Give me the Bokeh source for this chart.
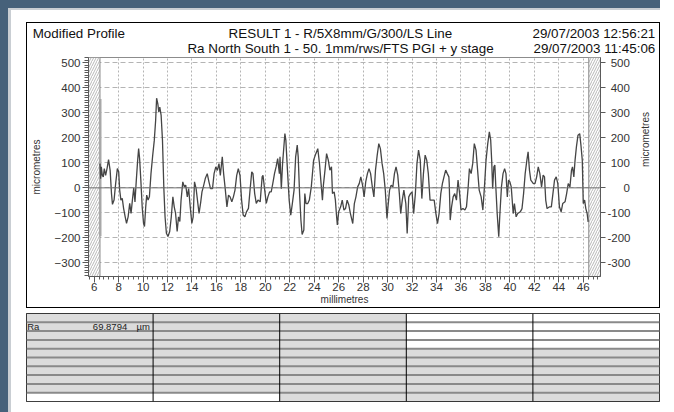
import math
from bokeh.plotting import figure
from bokeh.models import Range1d, LinearAxis, FixedTicker, Span
from bokeh.layouts import column, row
from bokeh.embed import file_html
from bokeh.resources import INLINE
from bokeh.core.properties import value

FONT = "Liberation Sans"

# ---------------- data ----------------
profile_mm = [
    6.48, 6.53, 6.59, 6.67, 6.75, 6.83, 6.94, 7.07, 7.18, 7.31, 7.42, 7.50, 7.63, 7.76, 7.90,
    8.01, 8.09, 8.19, 8.30, 8.41, 8.54, 8.65, 8.78, 8.91, 9.02, 9.13, 9.24, 9.34, 9.45, 9.56,
    9.64, 9.72, 9.82, 9.93, 10.04, 10.12, 10.22, 10.30, 10.41, 10.52, 10.65, 10.79, 10.92,
    11.03, 11.11, 11.21, 11.29, 11.37, 11.48, 11.59, 11.70, 11.80, 11.91, 12.04, 12.18, 12.31,
    12.44, 12.55, 12.66, 12.79, 12.90, 13.01, 13.11, 13.25, 13.38, 13.49, 13.62, 13.73, 13.86,
    13.99, 14.10, 14.21, 14.34, 14.45, 14.58, 14.72, 14.82, 14.93, 15.09, 15.25, 15.39, 15.52,
    15.68, 15.81, 15.95, 16.08, 16.21, 16.32, 16.48, 16.59, 16.72, 16.86, 16.99, 17.12, 17.26,
    17.39, 17.52, 17.66, 17.79, 17.93, 18.06, 18.19, 18.33, 18.46, 18.62, 18.75, 18.89, 18.99,
    19.13, 19.26, 19.40, 19.58, 19.74,
    19.81, 19.95, 20.08, 20.21, 20.35, 20.48, 20.61, 20.75, 20.88, 21.01, 21.15, 21.20, 21.31,
    21.41, 21.60, 21.68, 21.81, 21.95, 22.08, 22.21, 22.35, 22.48, 22.61, 22.69, 22.80, 22.91,
    23.01, 23.15, 23.23, 23.33, 23.47, 23.60, 23.76, 23.95, 24.13, 24.29, 24.43, 24.56, 24.67,
    24.75, 24.88, 25.01, 25.15, 25.28, 25.41, 25.49, 25.63, 25.73, 25.81, 25.89, 26.00, 26.16,
    26.29, 26.43, 26.56, 26.69, 26.83, 26.96, 27.15, 27.28, 27.41, 27.55, 27.68, 27.81, 27.95,
    28.08, 28.21, 28.35, 28.48, 28.61, 28.75, 28.88, 29.01, 29.15, 29.28, 29.41, 29.55, 29.68,
    29.81, 29.95, 30.03, 30.16, 30.29, 30.43, 30.56, 30.69, 30.83, 30.96, 31.07, 31.20, 31.33,
    31.49, 31.60, 31.73, 31.87, 32.00, 32.13, 32.27, 32.40, 32.53, 32.67, 32.80, 32.93, 33.07,
    33.20, 33.33, 33.47, 33.63, 33.81, 33.95, 34.08, 34.21, 34.35, 34.48, 34.61, 34.75, 34.88,
    35.01,
    35.04, 35.12, 35.23, 35.36, 35.49, 35.63, 35.76, 35.89, 36.00, 36.16, 36.32, 36.45, 36.59,
    36.69, 36.83, 36.96, 37.09, 37.23, 37.36, 37.49, 37.65, 37.79, 37.92, 38.05, 38.19, 38.32,
    38.43, 38.51, 38.59, 38.69, 38.77, 38.85, 38.96, 39.09, 39.17, 39.31, 39.44, 39.57, 39.68,
    39.79, 39.89, 40.00, 40.11, 40.27, 40.37, 40.51, 40.64, 40.85, 40.99, 41.12, 41.25, 41.39,
    41.49, 41.60, 41.71, 41.92, 42.05, 42.19, 42.32, 42.45, 42.59, 42.72, 42.83, 42.93, 43.04,
    43.25, 43.39, 43.52, 43.65, 43.79, 43.92, 44.05, 44.19, 44.32, 44.51, 44.64, 44.77, 44.91,
    45.04, 45.12, 45.23, 45.33, 45.44, 45.57, 45.71, 45.81, 45.92, 46.00, 46.11, 46.21, 46.32,
    46.40,
]
profile_um = [
    97, 37, 84, 50, 44, 77, 50, 81, 113, 70, -23, -66, -49, 17, 77,
    64, -9, -49, -42, -82, -116, -142, -116, -62, -102, -49, 0, -56, 31, 110,
    157, 117, 31, -76, -142, -155, -76, -29, -49, -36, 57, 130, 190,
    270, 359, 336, 303, 323, 290, 190, 0, -116, -182, -195, -175, -116,
    -36, -76, -102, -175, -116, -135, -49, 24, 4, 11, -36, -3, -76,
    -142, -116, 24, -3, -49, -102, -56, -16, 4, 37, 57, 24, -3,
    -3, 57, 84, 70, 97, 50, 124, 57, -3, -76, -29, -36, -56,
    -36, -9, 50, 77, 50, -49, -109, -116, -96, -82, -9, 64, 57,
    -23, -62, -49, -56, 44,
    50, -9, -62, -36, -16, -16, 17, 57, 84, 117, 57, 124, -3,
    97, 217, 191, 71, -49, -109, -63, -9, 124, 171, 124, -23, -129,
    -187, -169, -23, -63, -63, -49, 4, 111, 137, 157, 97, 17, -49,
    11, 71, 137, 111, 71, 84, -23, -16, -49, -103, -149, -96, -76,
    -49, -89, -83, -49, -69, -103, -143, -63, -36, 4, 17, 44, 11,
    -36, 24, 57, 77, 57, 4, -36, 71, 131, 177, 157, 97, 57,
    -9, -123, -76, -9, 11, 4, 57, 84, 51, -23, -103, -49, -9,
    -63, -183, -36, -23, -16, -103, -23, 97, 151, 111, -43, 57, 131,
    111, 57, -49, -49, -49, -103, -143, -103, -23, 17, 44, 71, 57,
    44,
    17, -129, -76, -36, -23, -49, 31, -23, -89, -83, -89, -76, 4,
    77, 57, 97, 177, 151, 71, -9, -36, -89, 4, 111, 177, 224,
    191, 111, -3, 84, 91, 4, -103, -196, -116, 4, 57, 77, 57,
    -36, 31, 24, 4, -103, -63, -116, -103, -96, -83, -23, 57, 111,
    144, 71, 31, 17, 17, 44, 84, 57, 4, 51, 44, -49, -83,
    -76, -76, -23, 31, 44, 17, -76, -96, -63, -56, -23, 17, 4,
    71, 84, 44, 111, 164, 211, 217, 171, 111, -63, -49, -83, -103,
    -136,
]

marker_mm = 6.50
marker_um = [-194, 356]

excluded_left = [5.54, 6.48]
excluded_right = [46.45, 47.41]

x_range_mm = (5.54, 47.41)
y_range_um = (-355, 522)
x_ticks = list(range(6, 47, 2))
x_minor = [round(5.6 + 0.4 * i, 2) for i in range(0, 105)]
y_ticks = list(range(-300, 501, 100))
y_minor = list(range(-350, 521, 10))

header_left = "Modified Profile"
header_center = ["RESULT 1 - R/5X8mm/G/300/LS Line",
                 "Ra North South 1 - 50. 1mm/rws/FTS PGI + y stage"]
header_right = ["29/07/2003 12:56:21", "29/07/2003 11:45:06"]
x_label = "millimetres"
y_label = "micrometres"

table_cols = 5
table_rows = 10
table_shade = [
    [1, 1, 1, 1, 1, 1, 1, 1, 1, 0],
    [1, 1, 1, 1, 1, 1, 1, 1, 1, 0],
    [1, 1, 1, 1, 1, 1, 1, 1, 1, 1],
    [0, 0, 0, 0, 1, 1, 1, 1, 1, 1],
    [0, 0, 0, 0, 1, 1, 1, 1, 1, 1],
]
param_name = "Ra"
param_value = "69.8794"
param_unit = "µm"

# ---------------- header strip (inside the report box) ----------------
BW = 632          # inner width of the report box
HH = 33
h = figure(width=BW, height=HH, x_range=Range1d(0, BW), y_range=Range1d(HH, 0),
           output_backend="svg", toolbar_location=None,
           x_axis_location=None, y_axis_location=None,
           min_border_left=0, min_border_right=0, min_border_top=0, min_border_bottom=0)
h.grid.visible = False
h.outline_line_color = None
h.background_fill_color = "white"
h.border_fill_color = "white"
hdr = dict(text_font=value(FONT), text_font_size="13.4px", text_color="#111111",
           text_baseline="middle")
h.text(x=[5.2], y=[9.5], text=[header_left], text_align="left", **hdr)
h.text(x=[313, 313], y=[9.5, 24.5], text=header_center, text_align="center", **hdr)
h.text(x=[627.8, 627.8], y=[9.5, 24.5], text=header_right, text_align="right", **hdr)

# ---------------- profile plot ----------------
HP = 251
p = figure(width=BW, height=HP, x_range=Range1d(*x_range_mm), y_range=Range1d(*y_range_um),
           output_backend="svg", toolbar_location=None,
           min_border_left=55, min_border_right=55, min_border_top=1, min_border_bottom=31)
p.background_fill_color = "white"
p.border_fill_color = "white"
p.outline_line_color = "#8c8c8c"

xa = p.xaxis[0]
xa.ticker = FixedTicker(ticks=x_ticks, minor_ticks=x_minor)
ya = p.yaxis[0]
ya.ticker = FixedTicker(ticks=y_ticks, minor_ticks=y_minor)
ra = LinearAxis(ticker=FixedTicker(ticks=y_ticks, minor_ticks=[]))
p.add_layout(ra, "right")

FS = "\u2007"   # figure space (digit width)
PS = "\u2008"   # punctuation space
def pad(v):
    s = str(v)
    if v < 0:
        return s
    if v == 0:
        return FS + FS + PS + s
    return PS + s
ra.major_label_overrides = {t: pad(t) for t in y_ticks}

for ax in (xa, ya, ra):
    ax.axis_line_color = "#5a5a5a"
    ax.major_tick_line_color = "#5a5a5a"
    ax.minor_tick_line_color = "#5a5a5a"
    ax.major_tick_in = 0
    ax.minor_tick_in = 0
    ax.major_tick_out = 6
    ax.major_label_text_font = FONT
    ax.major_label_text_font_size = "11.5px"
    ax.major_label_text_color = "#333333"
    ax.major_label_standoff = 2
    ax.axis_label_text_font = FONT
    ax.axis_label_text_font_size = "10px"
    ax.axis_label_text_font_style = "normal"
    ax.axis_label_text_color = "#333333"
xa.minor_tick_out = 3
xa.major_label_standoff = 0
xa.axis_label = x_label
xa.axis_label_standoff = 0
ya.minor_tick_out = 4
ya.axis_label = y_label
ya.axis_label_standoff = 10
ra.minor_tick_out = 0
ra.major_tick_out = 5
ra.axis_label = y_label
ra.axis_label_standoff = 12
try:
    ra.axis_label_orientation = math.pi / 2
except Exception:
    pass

p.xgrid.grid_line_color = "#b4b4b4"
p.xgrid.grid_line_dash = "2 2"
p.ygrid.grid_line_color = "#b4b4b4"
p.ygrid.grid_line_dash = "5 3"

for zone in (excluded_left, excluded_right):
    p.quad(left=zone[0], right=zone[1], bottom=y_range_um[0], top=y_range_um[1],
           fill_color="white", line_color="#8c8c8c", line_width=1,
           hatch_pattern="right_diagonal_line", hatch_color="#9a9a9a",
           hatch_scale=5, hatch_weight=0.7)

p.add_layout(Span(location=0, dimension="width", line_color="#707070", line_width=1))

p.segment(x0=[marker_mm], y0=[marker_um[0]], x1=[marker_mm], y1=[marker_um[1]],
          line_color="#a8a8a8", line_width=2.5)

p.line(profile_mm, profile_um, line_color="#454545", line_width=1.3)

box = column(row(h), row(p), spacing=0, margin=(12, 0, 0, 15),
             styles={"border": "1px solid black", "background-color": "white"})

# ---------------- results table ----------------
t = figure(width=649, height=96, x_range=Range1d(0, table_cols), y_range=Range1d(0, table_rows),
           output_backend="svg", toolbar_location=None,
           x_axis_location=None, y_axis_location=None,
           min_border_left=15, min_border_right=1, min_border_top=5, min_border_bottom=3)
t.grid.visible = False
t.outline_line_color = "black"
t.outline_line_width = 1

lefts, rights, tops, bottoms, colors = [], [], [], [], []
for c in range(table_cols):
    for r in range(table_rows):
        lefts.append(c)
        rights.append(c + 1)
        tops.append(table_rows - r)
        bottoms.append(table_rows - r - 1)
        colors.append("#dcdcdc" if table_shade[c][r] else "white")
t.quad(left=lefts, right=rights, top=tops, bottom=bottoms, fill_color=colors, line_color=None)

row_lines = list(range(1, table_rows))
t.segment(x0=[0] * len(row_lines), x1=[table_cols] * len(row_lines), y0=row_lines, y1=row_lines,
          line_color="#8a8a8a", line_width=2)
col_lines = list(range(1, table_cols))
t.segment(x0=col_lines, x1=col_lines, y0=[0] * len(col_lines), y1=[table_rows] * len(col_lines),
          line_color="black", line_width=1)

cell_w = 126.6
txt = dict(text_font=value(FONT), text_font_size="9.5px", text_baseline="middle",
           text_color="#222222")
t.text(x=[0.7 / cell_w], y=[table_rows - 1.5], text=[param_name], text_align="left", **txt)
t.text(x=[100.7 / cell_w], y=[table_rows - 1.5], text=[param_value], text_align="right", **txt)
t.text(x=[110.0 / cell_w], y=[table_rows - 1.5], text=[param_unit], text_align="left", **txt)

inner = column(box, row(t), spacing=0,
               styles={"border-left": "3px solid #c9ced3", "border-top": "2px solid #c9ced3",
                       "background-color": "white", "padding-bottom": "8px"})
layout = column(inner, spacing=0,
                styles={"border-left": "8px solid #46617a", "border-top": "8px solid #46617a",
                        "background-color": "white"})
open("out.html", "w").write(file_html(layout, INLINE))
